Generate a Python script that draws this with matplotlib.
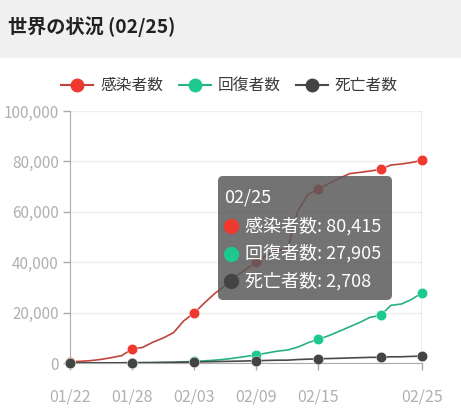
import numpy as np
import matplotlib
matplotlib.use("Agg")
import matplotlib.pyplot as plt
from matplotlib.patches import FancyBboxPatch, Rectangle
from matplotlib.ticker import FuncFormatter

plt.rcParams["font.family"] = ["Noto Sans CJK JP", "DejaVu Sans"]

# daily values 01/22 .. 02/25
dates = ["01/22", "01/23", "01/24", "01/25", "01/26", "01/27", "01/28", "01/29", "01/30",
         "01/31", "02/01", "02/02", "02/03", "02/04", "02/05", "02/06", "02/07", "02/08",
         "02/09", "02/10", "02/11", "02/12", "02/13", "02/14", "02/15", "02/16", "02/17",
         "02/18", "02/19", "02/20", "02/21", "02/22", "02/23", "02/24", "02/25"]
confirmed = [555, 654, 941, 1434, 2118, 2927, 5578, 6166, 8234, 9927, 12038, 16787, 19881,
             23892, 27635, 30794, 34391, 37120, 40150, 42762, 44802, 45221, 60368, 66885,
             69030, 71224, 73258, 75136, 75639, 76197, 76819, 78572, 78958, 79561, 80415]
recovered = [28, 30, 36, 39, 52, 61, 107, 126, 143, 222, 284, 472, 623, 852, 1124, 1487,
             2011, 2616, 3244, 3946, 4683, 5150, 6295, 8058, 9395, 10865, 12583, 14352,
             16121, 18177, 18890, 22886, 23394, 25227, 27905]
deaths = [17, 18, 26, 42, 56, 82, 131, 133, 171, 213, 259, 362, 426, 492, 564, 634, 719,
          806, 906, 1013, 1113, 1118, 1371, 1523, 1666, 1770, 1868, 2007, 2122, 2247, 2251,
          2458, 2469, 2629, 2708]
labels = ["感染者数", "回復者数", "死亡者数"]
tick_dates = ["01/22", "01/28", "02/03", "02/09", "02/15", "02/25"]
marker_dates = ["01/22", "01/28", "02/03", "02/09", "02/15", "02/21", "02/25"]

line_colors = ["#c0443a", "#2aae86", "#4a4a4a"]
dot_colors = ["#f0392e", "#1ec98e", "#444444"]
W, H = 461, 415

fig = plt.figure(figsize=(W / 100, H / 100), dpi=100)
ax = fig.add_axes([70 / W, 1 - 363 / H, 352 / W, 252 / H])

x = np.arange(len(dates))
mk = [dates.index(d) for d in marker_dates]
for vals, lc, dc in zip([confirmed, recovered, deaths], line_colors, dot_colors):
    v = np.array(vals)
    ax.plot(x, v, color=lc, lw=1.2, zorder=3)
    ax.plot(x[mk], v[mk], "o", color=dc, ms=7.5, mec="white", mew=0.3,
            zorder=4, clip_on=False)

ax.set_xlim(0, len(dates) - 1)
ax.set_ylim(0, 100000)
ax.set_yticks(range(0, 100001, 20000))
ax.yaxis.set_major_formatter(FuncFormatter(lambda v, p: f"{int(v):,}"))
ax.set_xticks([dates.index(d) for d in tick_dates])
ax.set_xticklabels(tick_dates)
ax.tick_params(colors="#aaaaaa", length=5, width=1)
ax.tick_params(axis="x", pad=13, labelsize=11.5, labelcolor="#b0b0b0")
ax.tick_params(axis="y", pad=3, labelsize=11, labelcolor="#b0b0b0")
ax.grid(axis="y", color="#eeeeee", lw=1)
ax.set_axisbelow(True)
for s in ["top", "right"]:
    ax.spines[s].set_visible(False)
for s in ["left", "bottom"]:
    ax.spines[s].set_color("#aaaaaa")
ax.axvline(len(dates) - 1, color="#999999", lw=1, zorder=2)

# overlay in pixel coords for header, legend and tooltip
ov = fig.add_axes([0, 0, 1, 1], zorder=10)
ov.set_xlim(0, W)
ov.set_ylim(H, 0)
ov.axis("off")
ov.patch.set_alpha(0)

ov.add_patch(Rectangle((0, 0), W, 57, color="#f0f0f0", zorder=0))
ov.text(8, 27, "世界の状況 (02/25)", fontsize=13.8, fontweight="bold",
        color="#222222", va="center", ha="left")

leg_x = [77, 195, 312]
for lx, lab, lc, dc in zip(leg_x, labels, line_colors, dot_colors):
    ov.plot([lx - 16, lx + 16], [85, 85], color=lc, lw=1.5)
    ov.plot(lx, 85, "o", color=dc, ms=9)
    ov.text(lx + 23, 85, lab, fontsize=11.3, color="#3a3a3a", va="center", ha="left")

ov.add_patch(FancyBboxPatch((221, 179), 168, 118,
                            boxstyle="round,pad=3,rounding_size=5",
                            fc="#5a5a5a", ec="none", alpha=0.85, zorder=5))
ov.text(224, 197, "02/25", fontsize=13, color="white", va="center", ha="left", zorder=6)
tip_vals = [confirmed[-1], recovered[-1], deaths[-1]]
for i, (lab, dc, v) in enumerate(zip(labels, dot_colors, tip_vals)):
    y = 226 + i * 27.5
    ov.plot(231, y, "o", color=dc, ms=10, zorder=6)
    ov.text(245, y, f"{lab}: {v:,}", fontsize=13, color="white",
            va="center", ha="left", zorder=6)

fig.savefig("out.png", dpi=100)
